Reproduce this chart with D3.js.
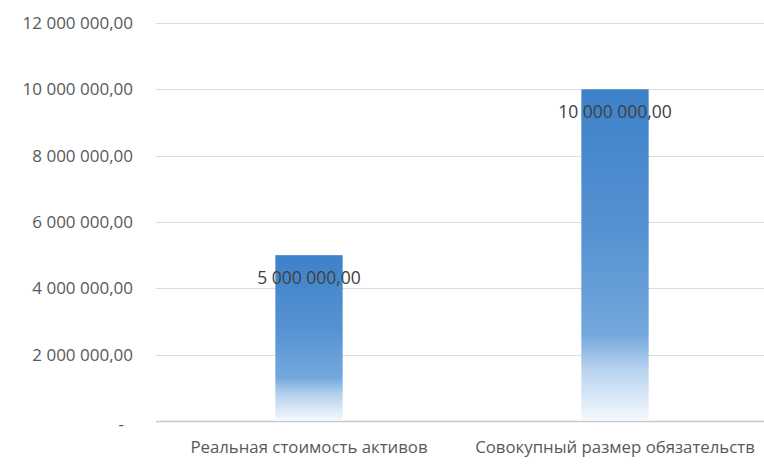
<!DOCTYPE html>
<html>
<head>
<meta charset="utf-8">
<script src="https://cdn.jsdelivr.net/npm/d3@7"></script>
<style>
  html, body { margin: 0; padding: 0; background: #fff; }
</style>
</head>
<body>
<svg id="chart" width="764" height="465"></svg>
<script>
// data
const categories = ['Реальная стоимость активов', 'Совокупный размер обязательств'];
const values = [5000000, 10000000];
const yTicks = [0, 2000000, 4000000, 6000000, 8000000, 10000000, 12000000];

const width = 764, height = 465;
const margin = { top: 23, right: 0, bottom: 44, left: 156 };
const innerWidth = width - margin.left - margin.right;
const innerHeight = height - margin.top - margin.bottom;

// "5 000 000,00" style
const fmt = v => {
  if (v === 0) return '-';
  const parts = v.toFixed(2).split('.');
  return parts[0].replace(/\B(?=(\d{3})+(?!\d))/g, ' ') + ',' + parts[1];
};

const svg = d3.select('#chart');

const defs = svg.append('defs');
const grad = defs.append('linearGradient')
  .attr('id', 'barGrad')
  .attr('x1', 0).attr('y1', 0).attr('x2', 0).attr('y2', 1);
[
  [0, '#3d81c9'],
  [0.45, '#5793d2'],
  [0.74, '#74a8dd'],
  [0.84, '#b6d1ee'],
  [1, '#f5f9fe']
].forEach(([o, c]) => grad.append('stop').attr('offset', o).attr('stop-color', c));

const x = d3.scaleBand()
  .domain(categories)
  .range([0, 612])
  .paddingInner(0.78)
  .paddingOuter(0.39);

const y = d3.scaleLinear()
  .domain([0, 12000000])
  .range([innerHeight, 0]);

const g = svg.append('g')
  .attr('transform', `translate(${margin.left},${margin.top})`);

// gridlines
g.append('g')
  .selectAll('line')
  .data(yTicks)
  .join('line')
  .attr('x1', 0)
  .attr('x2', innerWidth)
  .attr('y1', d => Math.round(y(d)) + 0.5)
  .attr('y2', d => Math.round(y(d)) + 0.5)
  .attr('stroke', d => d === 0 ? '#c8c8c8' : '#dcdcdc')
  .attr('stroke-width', d => d === 0 ? 1.3 : 1);

// y axis labels
g.append('g')
  .selectAll('text')
  .data(yTicks)
  .join('text')
  .attr('x', d => d === 0 ? -32 : -23)
  .attr('y', d => d === 0 ? y(d) + 3 : y(d))
  .attr('dy', '0.35em')
  .attr('text-anchor', 'end')
  .style('font-family', '"Open Sans", sans-serif')
  .style('font-size', '17px')
  .style('fill', '#595959')
  .text(fmt);

// bars
g.append('g')
  .selectAll('rect')
  .data(values)
  .join('rect')
  .attr('x', (d, i) => x(categories[i]))
  .attr('y', d => y(d))
  .attr('width', x.bandwidth())
  .attr('height', d => innerHeight - y(d))
  .attr('fill', 'url(#barGrad)');

// data labels
g.append('g')
  .selectAll('text')
  .data(values)
  .join('text')
  .attr('x', (d, i) => x(categories[i]) + x.bandwidth() / 2)
  .attr('y', d => y(d) + 23)
  .attr('dy', '0.35em')
  .attr('text-anchor', 'middle')
  .style('font-family', '"Open Sans", sans-serif')
  .style('font-size', '17.5px')
  .style('fill', '#404040')
  .text(fmt);

// x axis labels
g.append('g')
  .selectAll('text')
  .data(categories)
  .join('text')
  .attr('x', d => x(d) + x.bandwidth() / 2)
  .attr('y', innerHeight + 26)
  .attr('dy', '0.35em')
  .attr('text-anchor', 'middle')
  .style('font-family', '"Open Sans", sans-serif')
  .style('font-size', '16.8px')
  .style('fill', '#595959')
  .text(d => d);
</script>
</body>
</html>
